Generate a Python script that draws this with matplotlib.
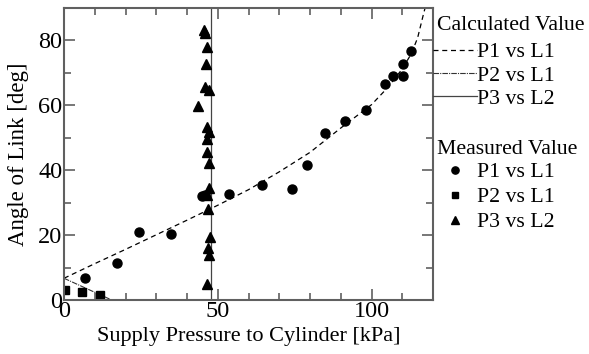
import matplotlib.pyplot as plt
from matplotlib.ticker import MultipleLocator

plt.rcParams["font.family"] = ["Liberation Serif", "DejaVu Serif"]

# calculated curves
calc_p1_x = [0, 10, 20, 30, 40, 50, 60, 70, 80, 90, 100, 105, 110, 113, 115, 117, 118]
calc_p1_y = [6.7, 11.2, 15.6, 20.1, 24.6, 29.2, 34.0, 39.5, 45.5, 53.0, 60.2, 65.2, 71.2, 76.0, 80.8, 88.5, 92.0]
calc_p2_x = [0, 15.5]
calc_p2_y = [6.7, 0.0]
calc_p3_x = [47.7, 47.7]
calc_p3_y = [0, 90]

# measured values
meas_p1_x = [6.9, 17.2, 24.5, 34.7, 45.0, 46.0, 53.8, 64.5, 74.3, 79.1, 84.8, 91.4, 98.1, 104.4, 107.0, 110.1, 110.1, 112.9]
meas_p1_y = [6.7, 11.4, 20.9, 20.3, 32.0, 32.3, 32.6, 35.3, 34.3, 41.5, 51.5, 55.1, 58.7, 66.6, 68.9, 69.0, 72.6, 76.7]
meas_p2_x = [0.4, 5.8, 11.8]
meas_p2_y = [3.1, 2.4, 1.6]
meas_p3_x = [45.5, 45.8, 46.4, 46.1, 45.9, 47.2, 43.7, 46.6, 47.3, 46.6, 46.4, 47.3, 47.3, 46.6, 46.8, 47.5, 46.8, 47.2, 46.6]
meas_p3_y = [83.2, 82.3, 78.0, 72.8, 65.6, 64.6, 59.8, 53.2, 51.9, 49.5, 45.5, 42.1, 34.5, 32.3, 28.1, 19.3, 15.9, 13.8, 4.8]

labels = ["P1 vs L1", "P2 vs L1", "P3 vs L2"]

fig = plt.figure(figsize=(5.89, 3.54), dpi=100)
ax = fig.add_axes([64 / 589, 1 - 300 / 354, 369 / 589, 292 / 354])

grey = "#606060"
l1, = ax.plot(calc_p1_x, calc_p1_y, color="black", lw=0.9, ls=(0, (4, 3)))
l2, = ax.plot(calc_p2_x, calc_p2_y, color="#333333", lw=0.8, ls=(0, (5, 1, 1, 1)))
l3, = ax.plot(calc_p3_x, calc_p3_y, color="#444444", lw=0.9, ls="-")

m1, = ax.plot(meas_p1_x, meas_p1_y, "o", color="black", ms=6.5, ls="none")
m2, = ax.plot(meas_p2_x, meas_p2_y, "s", color="black", ms=6, ls="none")
m3, = ax.plot(meas_p3_x, meas_p3_y, "^", color="black", ms=6.5, ls="none")

ax.set_xlim(0, 120)
ax.set_ylim(0, 90)
ax.xaxis.set_major_locator(MultipleLocator(50))
ax.xaxis.set_minor_locator(MultipleLocator(10))
ax.yaxis.set_major_locator(MultipleLocator(20))
ax.yaxis.set_minor_locator(MultipleLocator(10))
ax.tick_params(which="both", direction="in", top=True, right=True, colors=grey,
               labelcolor="black", width=1.2, labelsize=17.5, pad=1)
ax.tick_params(which="major", length=8)
ax.tick_params(which="minor", length=5)
for s in ax.spines.values():
    s.set_color(grey)
    s.set_linewidth(1.5)

ax.set_xlabel("Supply Pressure to Cylinder [kPa]", fontsize=16, labelpad=3)
ax.set_ylabel("Angle of Link [deg]", fontsize=16.5, labelpad=7)

fs = 15.7
leg_kw = dict(loc="upper left", frameon=False, fontsize=fs, handlelength=2.0,
              handletextpad=0.0, borderpad=0, borderaxespad=0)

ax.text(1.01, 0.939, "Calculated Value", transform=ax.transAxes, fontsize=fs,
        ha="left", va="center")
leg1 = ax.legend([l1, l2, l3], labels, bbox_to_anchor=(1.0, 0.883),
                 labelspacing=0.14, **leg_kw)
ax.add_artist(leg1)

ax.text(1.01, 0.514, "Measured Value", transform=ax.transAxes, fontsize=fs,
        ha="left", va="center")
ax.legend([m1, m2, m3], labels, bbox_to_anchor=(1.0, 0.473),
          labelspacing=0.22, markerscale=0.8, **leg_kw)

fig.savefig("out.png", dpi=100)
